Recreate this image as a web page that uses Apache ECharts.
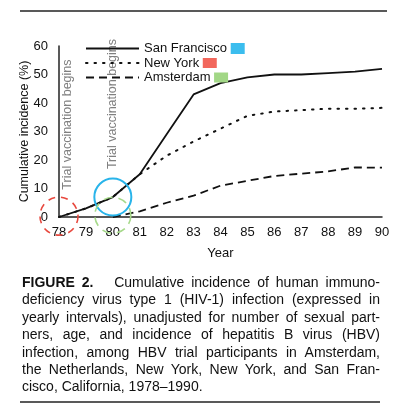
<!DOCTYPE html>
<html>
<head>
<meta charset="utf-8">
<script src="https://cdn.jsdelivr.net/npm/echarts@6/dist/echarts.min.js"></script>
<style>
  html, body { margin: 0; padding: 0; background: #fff; }
  #wrap { position: relative; width: 397px; height: 413px; }
  #chart { position: absolute; left: 0; top: 0; width: 397px; height: 413px; }
  #caption {
    position: absolute; left: 22px; top: 274px; width: 358px;
    font-family: "Liberation Sans", Arial, sans-serif; font-size: 14px;
    line-height: 17.4px; color: #111;
  }
  #caption div { text-align: justify; text-align-last: justify; white-space: nowrap; }
  #caption div.last { text-align-last: left; }
</style>
</head>
<body>
<div id="wrap">
  <div id="chart"></div>
  <div id="caption">
    <div><b>FIGURE 2.</b>&nbsp;&nbsp; Cumulative incidence of human immuno-</div>
    <div>deficiency virus type 1 (HIV-1) infection (expressed in</div>
    <div>yearly intervals), unadjusted for number of sexual part-</div>
    <div>ners, age, and incidence of hepatitis B virus (HBV)</div>
    <div>infection, among HBV trial participants in Amsterdam,</div>
    <div>the Netherlands, New York, New York, and San Fran-</div>
    <div class="last">cisco, California, 1978–1990.</div>
  </div>
</div>
<script>
(function(){
    var chartDom = document.getElementById("chart");
    var chart = echarts.init(chartDom);

    /******** data ********/
    var years = [78, 79, 80, 81, 82, 83, 84, 85, 86, 87, 88, 89, 90];
    var sanFrancisco = [0, 3, 7, 15, 29, 43, 47, 49, 50, 50, 50.5, 51, 52];
    var newYork = [0, 3, 7, 15, 21.5, 26.5, 31, 35.5, 37, 37.5, 38, 38, 38.3];
    var amsterdam = [null, null, 0, 2, 5, 7.5, 11, 12.7, 14.4, 15.2, 16, 17.4, 17.3];
    var seriesNames = ['San Francisco', 'New York', 'Amsterdam'];
    var swatchColors = ['#3bbdee', '#f2675c', '#a2d786'];
    var vaccinationNotes = [[78.3, 9.6], [80, 16.8]];

    function pairs(vals) {
        var out = [];
        for (var i = 0; i < years.length; i++) {
            out.push([years[i], vals[i]]);
        }
        return out;
    }

    var font = '"Liberation Sans", Arial, sans-serif';

    var option = {
        animation: false,
        grid: { left: 59, right: 15, top: 46, bottom: 196 },
        legend: {
            orient: 'vertical',
            left: 80,
            top: 37,
            itemWidth: 53,
            itemHeight: 14,
            itemGap: 1.5,
            itemStyle: { opacity: 0 },
            textStyle: {
                fontFamily: font, fontSize: 13, color: '#111',
                rich: {
                    sf: { backgroundColor: swatchColors[0], width: 14, height: 11 },
                    ny: { backgroundColor: swatchColors[1], width: 14, height: 10 },
                    am: { backgroundColor: swatchColors[2], width: 14, height: 10 }
                }
            },
            formatter: function (name) {
                var k = ['sf', 'ny', 'am'][seriesNames.indexOf(name)];
                return name + ' {' + k + '|}';
            },
            data: seriesNames
        },
        xAxis: {
            type: 'value',
            min: 78,
            max: 90,
            interval: 1,
            name: 'Year',
            nameLocation: 'middle',
            nameGap: 30,
            nameTextStyle: { fontFamily: font, fontSize: 13, color: '#111' },
            axisLine: { lineStyle: { color: '#222', width: 1.5 } },
            axisTick: { show: false },
            splitLine: { show: false },
            axisLabel: { fontFamily: font, fontSize: 13, color: '#111', margin: 9 }
        },
        yAxis: {
            type: 'value',
            min: 0,
            max: 60,
            interval: 10,
            name: 'Cumulative incidence (%)',
            nameLocation: 'middle',
            nameGap: 27.5,
            nameMoveOverlap: false,
            nameTextStyle: { fontFamily: font, fontSize: 12.5, color: '#111' },
            axisLine: { show: true, lineStyle: { color: '#222', width: 1.5 } },
            axisTick: { show: false },
            splitLine: { show: false },
            axisLabel: { fontFamily: font, fontSize: 13, color: '#111', margin: 11 }
        },
        series: [{
            name: seriesNames[0],
            type: 'line',
            data: pairs(sanFrancisco),
            symbol: 'none',
            lineStyle: { color: '#111', width: 1.8, type: 'solid' },
            itemStyle: { color: '#111' },
            z: 3,
            markPoint: {
                symbol: 'circle',
                label: { show: false },
                silent: true,
                data: [
                    { coord: [80, 7], symbolSize: 37,
                      itemStyle: { color: 'rgba(0,0,0,0)', borderColor: '#29b4ea', borderWidth: 2 } },
                    { coord: [78, 0.3], symbolSize: 38,
                      itemStyle: { color: 'rgba(0,0,0,0)', borderColor: '#e8483e', borderWidth: 1.6,
                                   borderType: [7, 6] } },
                    { coord: [80, 0.6], symbolSize: 36,
                      itemStyle: { color: 'rgba(0,0,0,0)', borderColor: '#a6d98a', borderWidth: 1.6,
                                   borderType: [9, 6] } }
                ]
            }
        }, {
            name: seriesNames[1],
            type: 'line',
            data: pairs(newYork),
            symbol: 'none',
            lineStyle: { color: '#111', width: 2, type: [1.5, 7], cap: 'round' },
            itemStyle: { color: '#111' },
            z: 2
        }, {
            name: seriesNames[2],
            type: 'line',
            data: pairs(amsterdam),
            symbol: 'none',
            lineStyle: { color: '#111', width: 1.8, type: [8, 5] },
            itemStyle: { color: '#111' },
            z: 2
        }]
    };
    chart.setOption(option, true);

    /******** rotated notes + rules ********/
    var graphics = [];
    for (var i = 0; i < vaccinationNotes.length; i++) {
        var p = chart.convertToPixel({ gridIndex: 0 }, vaccinationNotes[i]);
        graphics.push({
            type: 'text',
            x: p[0],
            y: p[1],
            rotation: Math.PI / 2,
            style: {
                text: 'Trial vaccination begins',
                fontFamily: font,
                fontSize: 12.5,
                fill: '#808080',
                align: 'left',
                verticalAlign: 'middle'
            },
            z: 1
        });
    }
    graphics.push({ type: 'line', shape: { x1: 20, y1: 11, x2: 387, y2: 11 },
                    style: { stroke: '#222', lineWidth: 1.5 } });
    graphics.push({ type: 'line', shape: { x1: 20, y1: 402, x2: 380, y2: 402 },
                    style: { stroke: '#222', lineWidth: 1.5 } });
    chart.setOption({ graphic: graphics });
})();
</script>
</body>
</html>
